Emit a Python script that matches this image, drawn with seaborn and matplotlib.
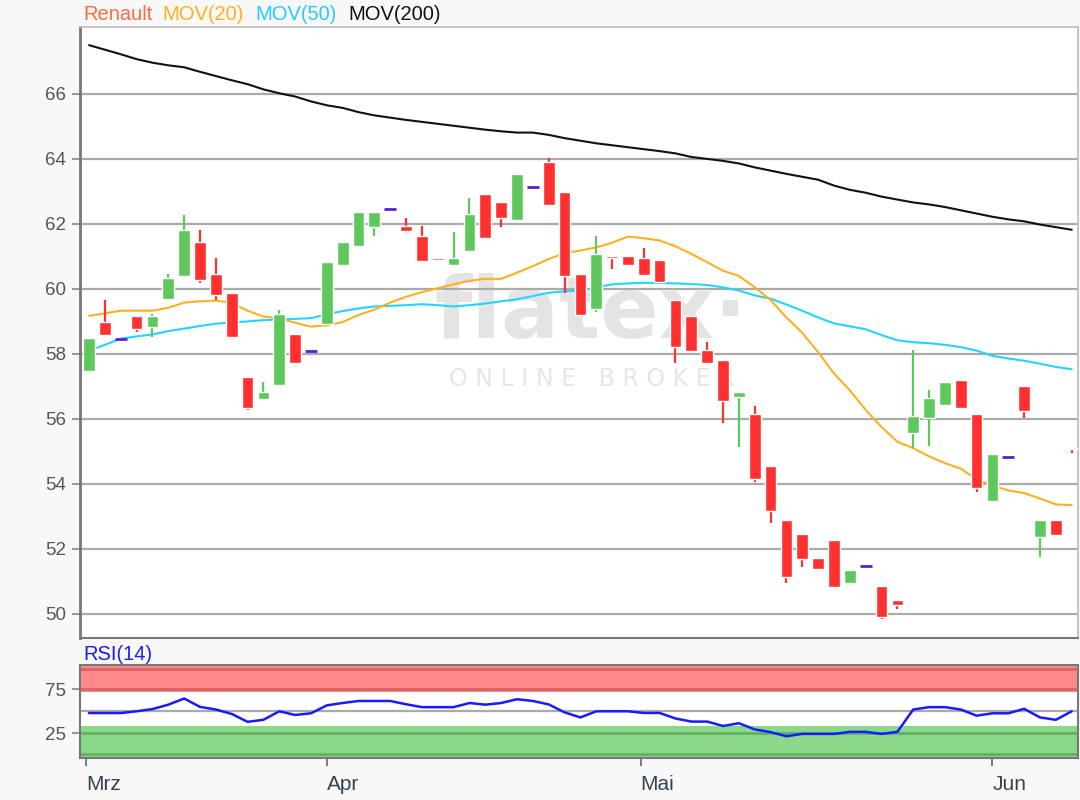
import numpy as np
import pandas as pd
import matplotlib
matplotlib.use("Agg")
import matplotlib.pyplot as plt
import seaborn as sns

# ---------------- data ----------------
opens = [57.48, 58.98, 58.47, 59.17, 58.83, 59.69, 60.41, 61.45, 60.46, 59.89,
         57.30, 56.62, 57.05, 58.62, 58.10, 58.92, 60.73, 61.33, 61.90, 62.47,
         61.94, 61.62, 60.95, 60.73, 61.16, 62.92, 62.67, 62.13, 63.15, 63.90,
         62.98, 60.45, 59.38, 61.02, 61.02, 60.95, 60.88, 59.65, 59.16, 58.12,
         57.82, 56.67, 56.15, 54.55, 52.89, 52.45, 51.72, 52.28, 50.94, 51.46,
         50.86, 50.43, 55.56, 56.04, 56.42, 57.20, 56.15, 53.47, 54.84, 57.02,
         52.36, 52.89, 55.12]
closes = [58.49, 58.58, 58.47, 58.77, 59.17, 60.34, 61.82, 60.29, 59.82, 58.51,
          56.35, 56.83, 59.23, 57.72, 58.10, 60.83, 61.45, 62.37, 62.37, 62.47,
          61.78, 60.85, 60.90, 60.95, 62.31, 61.58, 62.19, 63.53, 63.15, 62.58,
          60.41, 59.20, 61.07, 60.95, 60.73, 60.42, 60.22, 58.21, 58.08, 57.71,
          56.56, 56.82, 54.14, 53.16, 51.13, 51.69, 51.38, 50.83, 51.35, 51.46,
          49.90, 50.28, 56.08, 56.64, 57.13, 56.35, 53.89, 54.92, 54.84, 56.24,
          52.89, 52.42, 55.07]
highs = [58.49, 59.66, 58.47, 59.17, 59.23, 60.46, 62.26, 61.82, 60.95, 59.89,
         57.30, 57.14, 59.35, 58.62, 58.10, 60.83, 61.45, 62.37, 62.37, 62.47,
         62.18, 61.94, 60.95, 61.75, 62.79, 62.92, 62.67, 63.53, 63.15, 64.02,
         62.98, 60.45, 61.63, 61.02, 61.02, 61.26, 60.88, 59.65, 59.16, 58.36,
         57.82, 56.82, 56.40, 54.55, 52.89, 52.45, 51.72, 52.28, 51.35, 51.46,
         50.86, 50.43, 58.12, 56.89, 57.13, 57.20, 56.15, 54.92, 54.84, 57.02,
         52.89, 52.89, 55.12]
lows = [57.48, 58.58, 58.47, 58.69, 58.53, 59.69, 60.41, 60.18, 59.66, 58.51,
        56.28, 56.62, 57.05, 57.72, 58.10, 58.92, 60.73, 61.33, 61.64, 62.47,
        61.78, 60.85, 60.85, 60.73, 61.16, 61.58, 61.89, 62.13, 63.15, 62.58,
        59.87, 59.20, 59.30, 60.62, 60.73, 60.42, 60.22, 57.71, 58.08, 57.71,
        55.87, 55.15, 54.07, 52.79, 50.94, 51.44, 51.38, 50.83, 50.94, 51.46,
        49.84, 50.14, 55.10, 55.18, 56.42, 56.35, 53.76, 53.47, 54.84, 56.03,
        51.74, 52.42, 54.94]

mov20 = [59.17, 59.25, 59.33, 59.33, 59.33, 59.42, 59.58, 59.62, 59.64, 59.57,
         59.33, 59.15, 59.10, 58.96, 58.84, 58.88, 58.98, 59.20, 59.36, 59.58,
         59.76, 59.90, 60.02, 60.14, 60.25, 60.31, 60.31, 60.50, 60.70, 60.92,
         61.10, 61.18, 61.28, 61.42, 61.61, 61.56, 61.49, 61.31, 61.08, 60.82,
         60.56, 60.40, 60.05, 59.66, 59.12, 58.65, 58.05, 57.40, 56.88, 56.28,
         55.75, 55.30, 55.10, 54.85, 54.64, 54.47, 54.14, 53.95, 53.80, 53.72,
         53.55, 53.37, 53.35]
mov50 = [58.10, 58.28, 58.47, 58.54, 58.60, 58.70, 58.78, 58.86, 58.93, 58.97,
         59.00, 59.04, 59.06, 59.08, 59.10, 59.22, 59.32, 59.40, 59.46, 59.48,
         59.50, 59.53, 59.50, 59.46, 59.50, 59.55, 59.62, 59.68, 59.78, 59.88,
         59.93, 59.94, 60.05, 60.14, 60.17, 60.19, 60.18, 60.17, 60.15, 60.12,
         60.05, 59.95, 59.80, 59.70, 59.52, 59.33, 59.12, 58.94, 58.85, 58.76,
         58.58, 58.42, 58.36, 58.33, 58.28, 58.21, 58.10, 57.94, 57.86, 57.79,
         57.70, 57.60, 57.53]
mov200 = [67.50, 67.36, 67.22, 67.07, 66.96, 66.88, 66.82, 66.68, 66.55, 66.42,
          66.30, 66.14, 66.02, 65.92, 65.77, 65.65, 65.57, 65.44, 65.34, 65.27,
          65.20, 65.14, 65.08, 65.02, 64.96, 64.90, 64.85, 64.81, 64.81, 64.74,
          64.64, 64.56, 64.48, 64.42, 64.36, 64.30, 64.24, 64.17, 64.06, 64.00,
          63.94, 63.86, 63.74, 63.64, 63.54, 63.45, 63.36, 63.18, 63.05, 62.96,
          62.84, 62.75, 62.66, 62.60, 62.52, 62.42, 62.32, 62.22, 62.14, 62.08,
          61.98, 61.90, 61.82]
rsi14 = [48, 48, 48, 50, 52.5, 57.5, 64.5, 55, 52, 47,
         38, 40.3, 50, 45.8, 47.7, 56.7, 59.4, 61.7, 61.7, 61.7,
         58, 54.7, 54.7, 54.7, 59.4, 57.5, 59.4, 63.7, 61.7, 57.8,
         48.8, 43, 50, 50, 50, 48.1, 48.1, 41.8, 38.3, 38.3,
         33.3, 36.4, 29.4, 26.3, 21.6, 24.3, 24.3, 24.3, 26.6, 26.6,
         24.3, 26.6, 52, 54.7, 54.7, 52, 45, 47.7, 47.7, 52.8,
         43, 40.3, 50]

month_labels = ["Mrz", "Apr", "Mai", "Jun"]
month_pos = [-0.2, 15, 34.8, 57]
price_ticks = [50, 52, 54, 56, 58, 60, 62, 64, 66]
rsi_ticks = [25, 75]
legend_names = ["Renault", "MOV(20)", "MOV(50)", "MOV(200)"]

# ---------------- build table ----------------
n = len(opens)
df = pd.DataFrame({"i": np.arange(n), "open": opens, "close": closes,
                   "high": highs, "low": lows, "mov20": mov20,
                   "mov50": mov50, "mov200": mov200, "rsi": rsi14})

sns.set_theme(style="white")
plt.rcParams["font.family"] = ["Liberation Sans", "DejaVu Sans"]

GREEN = "#5ec85e"
RED = "#ff3030"
DOJI = "#5522cc"
C20, C50, C200 = "#ffb020", "#22d4ff", "#111111"

fig = plt.figure(figsize=(10.8, 8.0), dpi=100, facecolor="#f8f8f8")
ax = fig.add_axes([0.0741, 0.2025, 0.9241, 0.7638])
axr = fig.add_axes([0.0741, 0.0525, 0.9241, 0.11625])
ax.set_facecolor("white")
axr.set_facecolor("white")

# watermark
ax.text(0.512, 0.530, "flatex\u00b7", transform=ax.transAxes, ha="center", va="center",
        fontsize=62, fontweight="bold", color="#e4e4e4", family="DejaVu Sans", zorder=0)
ax.text(0.513, 0.424, "O N L I N E   B R O K E R", transform=ax.transAxes,
        ha="center", va="center", fontsize=17, color="#e6e6e6",
        family="DejaVu Sans", zorder=0)

# grid
for t in price_ticks:
    ax.axhline(t, color="#aaaaaa", lw=1.6, zorder=1)

# moving averages
sns.lineplot(data=df, x="i", y="mov200", ax=ax, color=C200, lw=1.5, zorder=3)
sns.lineplot(data=df, x="i", y="mov50", ax=ax, color=C50, lw=1.5, zorder=3)
sns.lineplot(data=df, x="i", y="mov20", ax=ax, color=C20, lw=1.5, zorder=3)

# candles
up = df[df.close > df.open]
dn = df[df.close < df.open]
dj = df[df.close == df.open]
W = 0.74
ax.vlines(up.i, up.low, up.high, color=GREEN, lw=1.6, zorder=4)
ax.vlines(dn.i, dn.low, dn.high, color=RED, lw=1.6, zorder=4)
ax.bar(up.i, up.close - up.open, bottom=up.open, width=W, color=GREEN, zorder=5)
ax.bar(dn.i, dn.open - dn.close, bottom=dn.close, width=W, color=RED, zorder=5)
ax.hlines(dj.close, dj.i - W / 2, dj.i + W / 2, color=DOJI, lw=2, zorder=5)

ax.set_xlim(-0.57, 62.4)
ax.set_ylim(49.26, 68.06)
ax.set_yticks(price_ticks)
ax.set_yticklabels([str(t) for t in price_ticks], color="#555555", fontsize=13.5)
ax.set_xticks([])
ax.set_xlabel("")
ax.set_ylabel("")
ax.tick_params(axis="y", length=6, width=1.2, color="#888888", pad=4, left=True)
for s in ["top", "right"]:
    ax.spines[s].set_color("#bbbbbb")
    ax.spines[s].set_linewidth(1.2)
ax.spines["left"].set_color("#777777")
ax.spines["left"].set_linewidth(2)
ax.spines["bottom"].set_color("#777777")
ax.spines["bottom"].set_linewidth(1.5)

# legend
leg_colors = ["#ff6a3d", C20, "#22ccff", C200]
leg_x = [83, 162, 255, 348]
for name, col, xp in zip(legend_names, leg_colors, leg_x):
    fig.text(xp / 1080, 1 - 14 / 800, name, color=col, fontsize=14.5, va="center")

# ---------------- RSI panel ----------------
lo, hi = -3.1, 102.6
axr.axhspan(72.3, hi, color="#ff8a8a", zorder=1, lw=0)
axr.axhspan(lo, 33.2, color="#8ad88a", zorder=1, lw=0)
axr.axhline(75, color="#dd6262", lw=2, zorder=2)
axr.axhline(98.5, color="#dd6262", lw=2, zorder=2)
axr.axhline(25, color="#62b062", lw=2, zorder=2)
axr.axhline(1.5, color="#62b062", lw=2, zorder=2)
axr.axhline(50, color="#aaaaaa", lw=1.6, zorder=2)
sns.lineplot(data=df, x="i", y="rsi", ax=axr, color="#1a1aff", lw=1.8, zorder=4)
axr.set_xlim(-0.57, 62.4)
axr.set_ylim(lo, hi)
axr.set_yticks(rsi_ticks)
axr.set_yticklabels([str(t) for t in rsi_ticks], color="#555555", fontsize=13.5)
axr.set_xticks(month_pos)
axr.set_xticklabels(month_labels, color="#334455", fontsize=15, ha="left")
axr.set_xlabel("")
axr.set_ylabel("")
axr.tick_params(axis="y", length=6, width=1.2, color="#888888", pad=4, left=True)
axr.tick_params(axis="x", length=6, width=1.2, color="#556677", pad=6, bottom=True)
for s in axr.spines.values():
    s.set_color("#777777")
    s.set_linewidth(1.5)
fig.text(83 / 1080, 1 - 655 / 800, "RSI(14)", color="#1a1aff", fontsize=14.5, va="center")

fig.savefig("out.png", dpi=100, facecolor=fig.get_facecolor())
